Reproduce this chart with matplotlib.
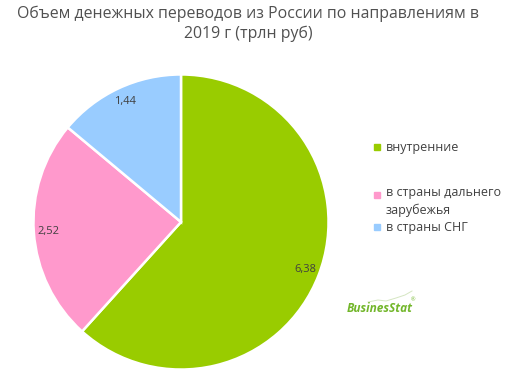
import matplotlib
matplotlib.use("Agg")
import matplotlib.pyplot as plt
from matplotlib.patches import Rectangle
from matplotlib.lines import Line2D

plt.rcParams['font.family'] = ['Open Sans', 'DejaVu Sans']

categories = ["внутренние", "в страны дальнего\nзарубежья", "в страны СНГ"]
values = [6.38, 2.52, 1.44]
value_labels = ["6,38", "2,52", "1,44"]
colors = ["#99CC00", "#FF99CC", "#99CCFF"]
title = "Объем денежных переводов из России по направлениям в\n2019 г (трлн руб)"

W, H = 519, 387
fig = plt.figure(figsize=(W/100, H/100), dpi=100)
fig.patch.set_facecolor("white")

ax = fig.add_axes([32/W, 16/H, 298/W, 298/H])
wedges, texts = ax.pie(values, colors=colors, startangle=90, counterclock=False,
                       labels=value_labels, labeldistance=0.9,
                       wedgeprops=dict(edgecolor="white", linewidth=1.8),
                       textprops=dict(color="#404040", fontsize=8))
for t in texts:
    t.set_ha("center")
    t.set_va("center")
ax.set_xlim(-1.01, 1.01)
ax.set_ylim(-1.01, 1.01)
ax.set_aspect("equal")
ax.axis("off")

fig.text(248/W, 1 - 24/H, title, ha="center", va="center", fontsize=11.4,
         color="#505050", linespacing=1.3)

# legend
leg_y = [147, 195, 227]
for cat, col, y in zip(categories, colors, leg_y):
    fig.patches.append(Rectangle((374/W, 1 - (y + 3)/H), 6/W, 6/H,
                                 transform=fig.transFigure, color=col))
    if "\n" in cat:
        fig.text(386/W, 1 - (y - 9)/H, cat, ha="left", va="top",
                 fontsize=9, color="#404040", linespacing=1.45)
    else:
        fig.text(386/W, 1 - y/H, cat, ha="left", va="center",
                 fontsize=9, color="#404040")

fig.text(347/W, 1 - 308/H, "BusinesStat", ha="left", va="center", fontsize=8.6,
         fontweight="bold", style="italic", color="#72B62A")
fig.text(411/W, 1 - 300/H, "®", ha="left", va="center", fontsize=4,
         color="#72B62A")
fig.lines.append(Line2D([368/W, 378/W, 386/W, 396/W, 405/W, 412/W],
                        [1 - 302/H, 1 - 300/H, 1 - 301/H, 1 - 298/H, 1 - 295/H, 1 - 291/H],
                        transform=fig.transFigure, color="#D5E6C2", lw=0.7))

fig.savefig("out.png", dpi=100)
